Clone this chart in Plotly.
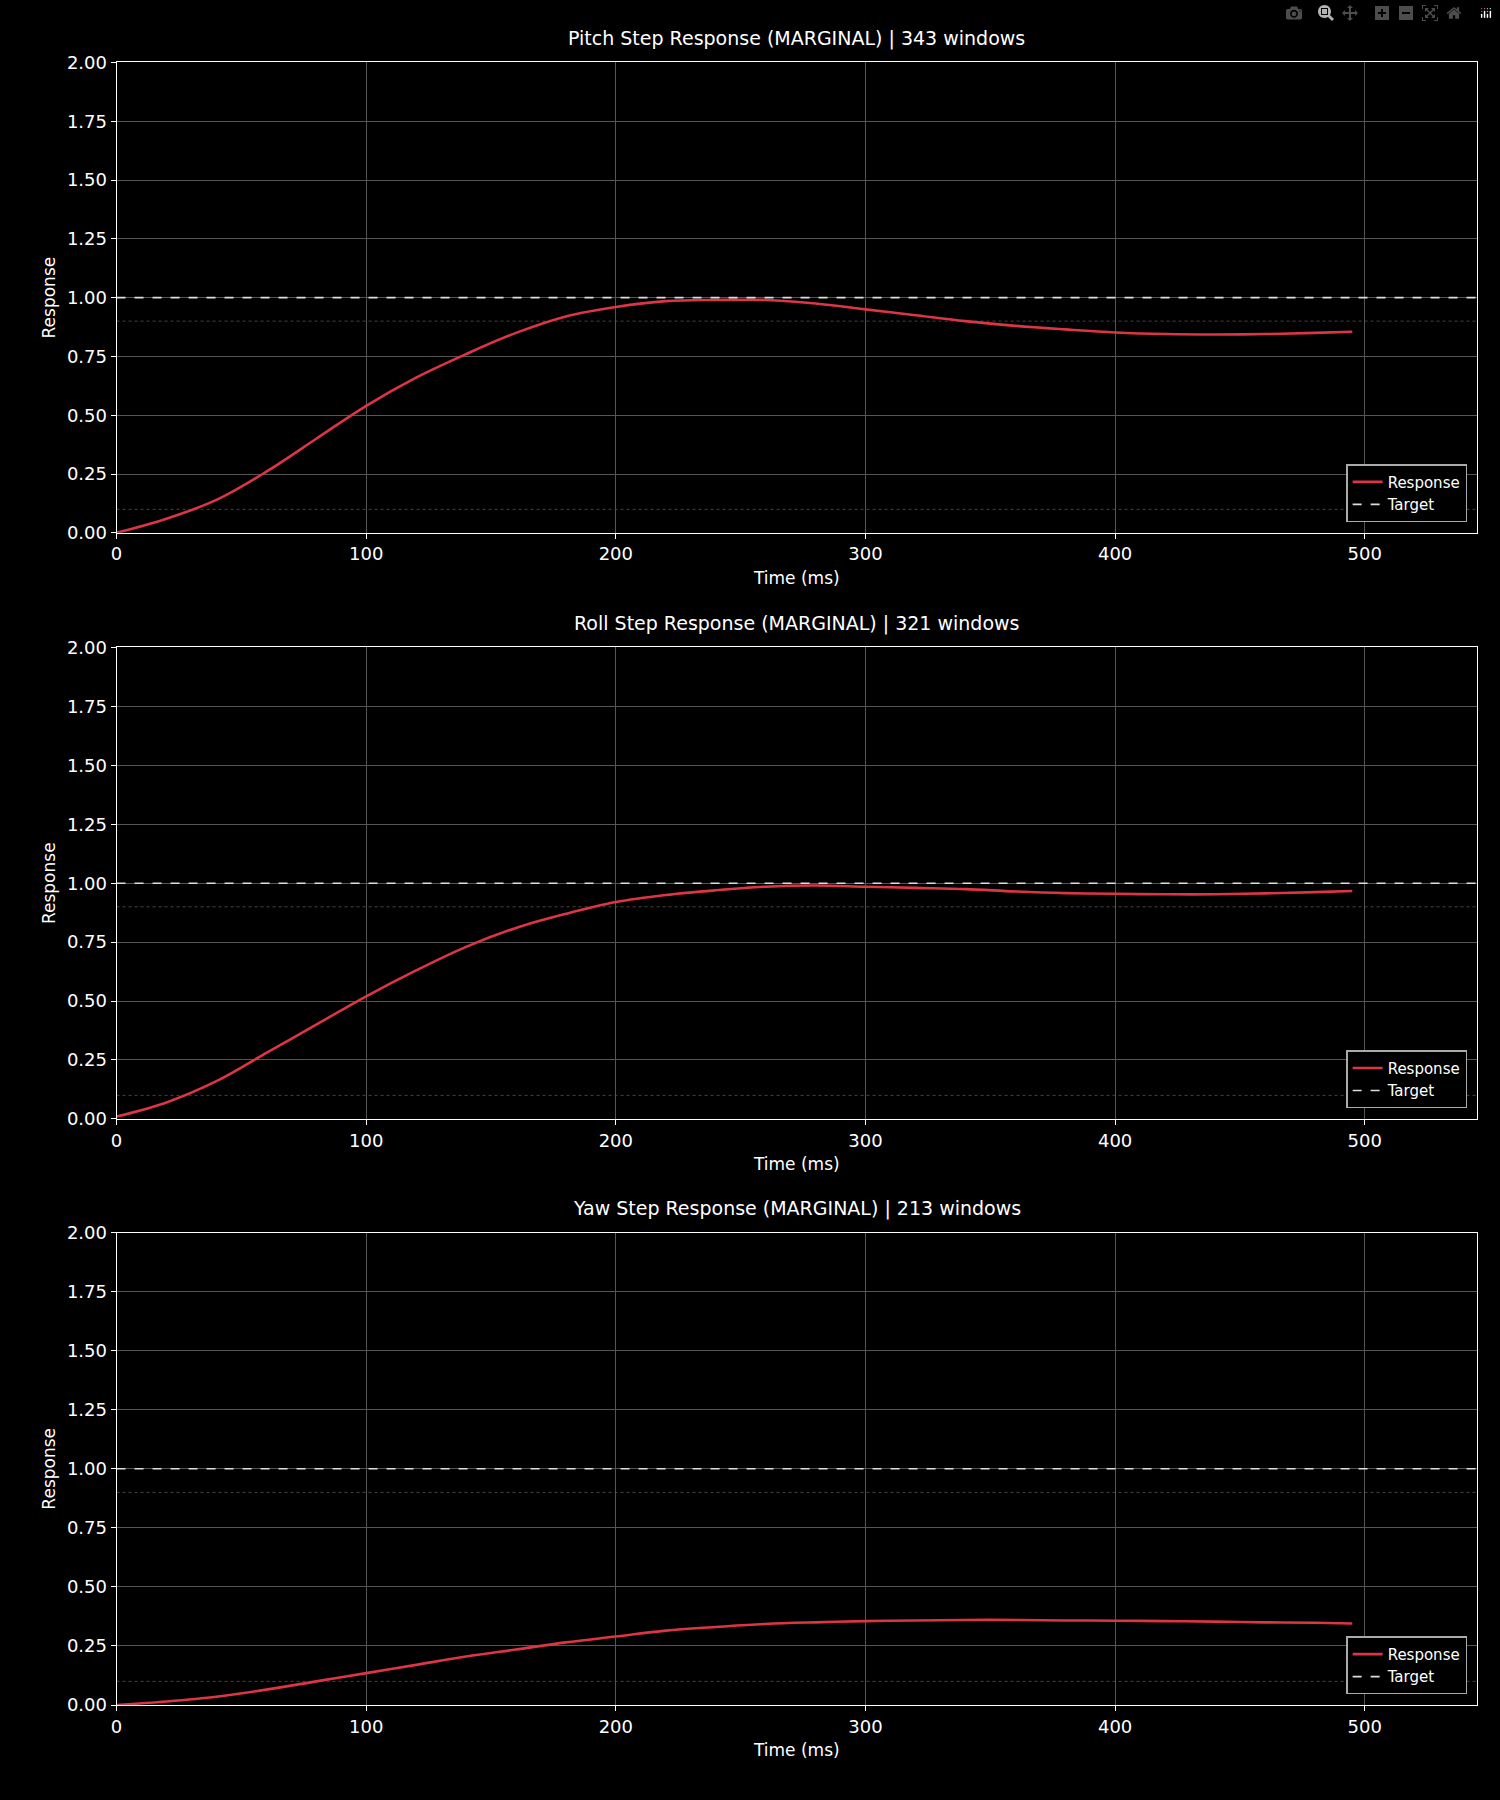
import plotly.graph_objects as go

# Step response data (ms, normalised response)
time_ms = [0, 20, 40, 60, 80, 100, 120, 140, 160, 180, 200, 220, 240, 260, 280,
           300, 320, 340, 360, 380, 400, 420, 440, 460, 480, 495]
pitch = [0.0, 0.06, 0.14, 0.26, 0.40, 0.54, 0.66, 0.76, 0.85, 0.92, 0.96, 0.985,
         0.99, 0.99, 0.975, 0.95, 0.925, 0.90, 0.88, 0.865, 0.852, 0.845, 0.843,
         0.845, 0.85, 0.855]
roll = [0.01, 0.07, 0.16, 0.28, 0.40, 0.52, 0.63, 0.73, 0.81, 0.87, 0.92, 0.95,
        0.97, 0.985, 0.99, 0.985, 0.98, 0.975, 0.965, 0.958, 0.955, 0.953, 0.953,
        0.957, 0.962, 0.967]
yaw = [0.0, 0.015, 0.035, 0.065, 0.10, 0.135, 0.17, 0.205, 0.235, 0.265, 0.29,
       0.315, 0.33, 0.343, 0.35, 0.355, 0.358, 0.36, 0.36, 0.358, 0.357, 0.355,
       0.353, 0.35, 0.348, 0.345]
titles = ["Pitch Step Response (MARGINAL) | 343 windows",
          "Roll Step Response (MARGINAL) | 321 windows",
          "Yaw Step Response (MARGINAL) | 213 windows"]
series = [pitch, roll, yaw]
target = 1.0
x_max = 545

W, H = 1500, 1800
left, right = 111, 1477
panels = [(52, 528), (644, 1121), (1236, 1714)]  # top, bottom in px

fig = go.Figure()
font = dict(family="DejaVu Sans", color="white")

for i, (vals, title, (top, bot)) in enumerate(zip(series, titles, panels)):
    n = "" if i == 0 else str(i + 1)
    xa, ya, lg = "x" + n, "y" + n, "legend" + n
    fig.add_trace(go.Scatter(x=time_ms, y=vals, mode="lines", name="Response",
                             line=dict(color="#dc3545", width=2.6, shape="spline"),
                             xaxis=xa, yaxis=ya, legend=lg))
    fig.add_trace(go.Scatter(x=[0, x_max], y=[target, target], mode="lines", name="Target",
                             line=dict(color="#dddddd", width=1.6, dash="dash"),
                             xaxis=xa, yaxis=ya, legend=lg))
    for lvl in (0.9, 0.1):
        fig.add_shape(type="line", xref=xa, yref=ya, x0=0, x1=x_max, y0=lvl, y1=lvl,
                      line=dict(color="#444444", width=1, dash="dot"), layer="below")
    ydom = [1 - bot / H, 1 - top / H]
    fig.layout["xaxis" + n] = dict(
        domain=[left / W, right / W], range=[0, x_max], anchor=ya,
        tickvals=[0, 100, 200, 300, 400, 500], ticks="outside", ticklen=5, tickcolor="white",
        showgrid=True, gridcolor="#555555", showline=True, linecolor="white", mirror=True,
        zeroline=False, title=dict(text="Time (ms)", font=dict(size=17), standoff=8),
        tickfont=dict(size=18))
    fig.layout["yaxis" + n] = dict(
        domain=ydom, range=[0, 2], anchor=xa, dtick=0.25, tickformat=".2f",
        ticks="outside", ticklen=5, tickcolor="white",
        showgrid=True, gridcolor="#555555", showline=True, linecolor="white", mirror=True,
        zeroline=False, title=dict(text="Response", font=dict(size=17), standoff=6),
        tickfont=dict(size=18))
    fig.layout[lg] = dict(x=0.978, y=ydom[0] + 0.006, xanchor="right", yanchor="bottom",
                          xref="paper", yref="paper", bgcolor="black",
                          bordercolor="#aaaaaa", borderwidth=1.5, font=dict(size=15))
    fig.add_annotation(text=title, x=(left + right) / 2 / W, y=ydom[1] + 0.006,
                       xref="paper", yref="paper", xanchor="center", yanchor="bottom",
                       showarrow=False, font=dict(size=19))

fig.update_layout(width=W, height=H, paper_bgcolor="black", plot_bgcolor="black",
                  font=font, margin=dict(l=0, r=0, t=0, b=0))
fig.write_html("out.html",
               post_script="document.body.style.margin='0';document.body.style.background='black';")
